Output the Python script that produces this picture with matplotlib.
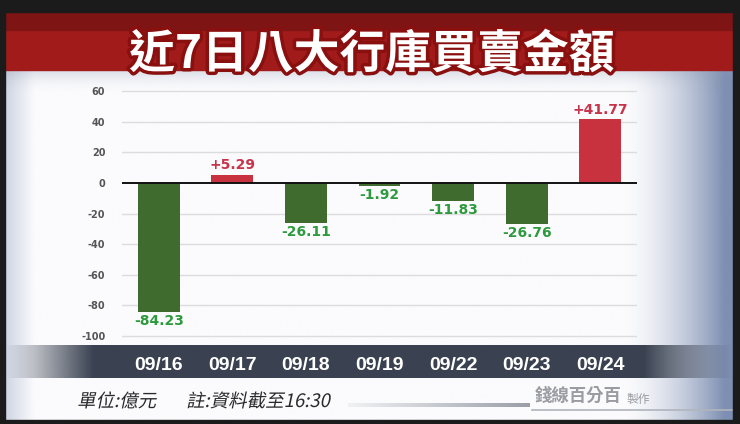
import numpy as np
import matplotlib.pyplot as plt
import matplotlib.patheffects as pe
from matplotlib.colors import LinearSegmentedColormap
from matplotlib.textpath import TextPath
from matplotlib.patches import PathPatch
from matplotlib.font_manager import FontProperties
from matplotlib.transforms import Affine2D

plt.rcParams['font.family'] = ['Noto Sans CJK TC', 'DejaVu Sans']

dates = ['09/16', '09/17', '09/18', '09/19', '09/22', '09/23', '09/24']
values = [-84.23, 5.29, -26.11, -1.92, -11.83, -26.76, 41.77]
yticks = [60, 40, 20, 0, -20, -40, -60, -80, -100]
title = '近7日八大行庫買賣金額'
footer = ['單位:億元', '註:資料截至16:30']

W, H = 740, 424
fig = plt.figure(figsize=(W / 100, H / 100), dpi=100)
fig.patch.set_facecolor('#1b1b1b')

# background layer in pixel coords
bg = fig.add_axes([0, 0, 1, 1])
bg.set_xlim(0, W)
bg.set_ylim(H, 0)
bg.axis('off')

# panel gradient: white centre, bluish right edge
xs = np.linspace(0, 1, 400)
right = np.clip((xs - 0.85) / 0.14, 0, 1) ** 1.6
left = np.clip((0.04 - xs) / 0.04, 0, 1)
shade = np.maximum(right, 0.35 * left)
cmap = LinearSegmentedColormap.from_list('p', ['#fbfbfd', '#7d8fb2'])
bg.imshow(shade[None, :], extent=(5, 733, 420, 12), cmap=cmap, vmin=0, vmax=1,
          aspect='auto', zorder=0)
# slight grey haze below title
ys = np.linspace(0, 1, 50)
haze = np.zeros((50, 4))
haze[:, :3] = [0.55, 0.6, 0.7]
haze[:, 3] = 0.35 * (1 - ys) ** 2
bg.imshow(haze[:, None, :], extent=(5, 733, 95, 68), aspect='auto', zorder=1)

# red title band
bg.add_patch(plt.Rectangle((5, 12), 728, 58, color='#a11b1b', zorder=2))
bg.add_patch(plt.Rectangle((5, 12), 728, 18, color='#7e1414', zorder=2))
bg.text(372, 55, title, ha='center', va='center', fontsize=33, fontweight='bold',
        color='white', zorder=5,
        path_effects=[pe.withStroke(linewidth=5, foreground='#8a1010')])

# dark date band with faded ends
band = np.clip(np.minimum(xs / 0.12, (1 - xs) / 0.12), 0, 1)
bcol = np.zeros((1, 400, 4))
bcol[0, :, :3] = [0.23, 0.26, 0.32]
bcol[0, :, 3] = band
bg.imshow(bcol, extent=(5, 733, 378, 345), aspect='auto', zorder=2)


def slanted(s, x0, y0, size, color):
    # CJK fonts carry no italic, so shear the glyph outlines
    tp = TextPath((0, 0), s, size=size,
                  prop=FontProperties(family='Noto Sans CJK TC', weight='medium'))
    tr = Affine2D().skew_deg(12, 0).scale(1, -1).translate(x0, y0)
    bg.add_patch(PathPatch(tr.transform_path(tp), color=color, lw=0, zorder=5))


slanted(footer[0], 77, 407, 18.5, '#2a2a2a')
slanted(footer[1], 186, 407, 18.5, '#2a2a2a')
line = np.zeros((1, 200, 4))
line[0, :, :3] = [0.6, 0.62, 0.66]
line[0, :, 3] = np.linspace(0.1, 1, 200)
bg.imshow(line, extent=(348, 530, 407, 403), aspect='auto', zorder=3)
bg.plot([532, 733], [410, 410], color='#b0b4bc', lw=1.2, zorder=3)
bg.text(535, 396, '錢線百分百', ha='left', va='center', fontsize=12.5, fontweight='bold',
        color='#9a9ca2', zorder=5)
bg.text(627, 399, '製作', ha='left', va='center', fontsize=8.5, color='#9a9ca2', zorder=5)

# outer dark frame
for r in [(0, 0, W, 12), (0, 420, W, 4), (0, 0, 5, H), (733, 0, 7, H)]:
    bg.add_patch(plt.Rectangle(r[:2], r[2], r[3], color='#1b1b1b', zorder=6))

# main chart
y_lo, y_hi = -103, 63
ppu = (336 - 91) / 160.0
top_px = 91 - (y_hi - 60) * ppu
bot_px = 336 + (-100 - y_lo) * ppu
ax = fig.add_axes([122 / W, 1 - bot_px / H, (637 - 122) / W, (bot_px - top_px) / H])
ax.patch.set_alpha(0)
x = np.arange(len(values))
colors = ['#c8323f' if v > 0 else '#3f6b2e' for v in values]
ax.bar(x, values, width=0.57, color=colors, zorder=3)
for xi, v in zip(x, values):
    if v > 0:
        ax.text(xi, v + 1.5, f'+{v:.2f}', ha='center', va='bottom', fontsize=10,
                fontweight='bold', color='#c8334a', family='DejaVu Sans')
    else:
        ax.text(xi, v - 1.5, f'{v:.2f}', ha='center', va='top', fontsize=10,
                fontweight='bold', color='#2e9a3e', family='DejaVu Sans')
ax.axhline(0, color='#111111', lw=1.4, zorder=4)
for t in yticks:
    if t != 0:
        ax.axhline(t, color='#dcdcdc', lw=1, zorder=1)
ax.set_xlim(-0.5, len(values) - 0.5)
ax.set_ylim(y_lo, y_hi)
ax.set_yticks(yticks)
ax.set_yticklabels([str(t) for t in yticks], fontsize=7, color='#555555',
                   fontweight='bold', family='DejaVu Sans')
ax.tick_params(axis='y', length=0, pad=12)
ax.set_xticks(x)
ax.set_xticklabels(dates, fontsize=14, color='white', fontweight='bold',
                   family='Liberation Sans')
ax.tick_params(axis='x', length=0, pad=12)
for s in ax.spines.values():
    s.set_visible(False)

fig.savefig('out.png', dpi=100, facecolor=fig.get_facecolor())
